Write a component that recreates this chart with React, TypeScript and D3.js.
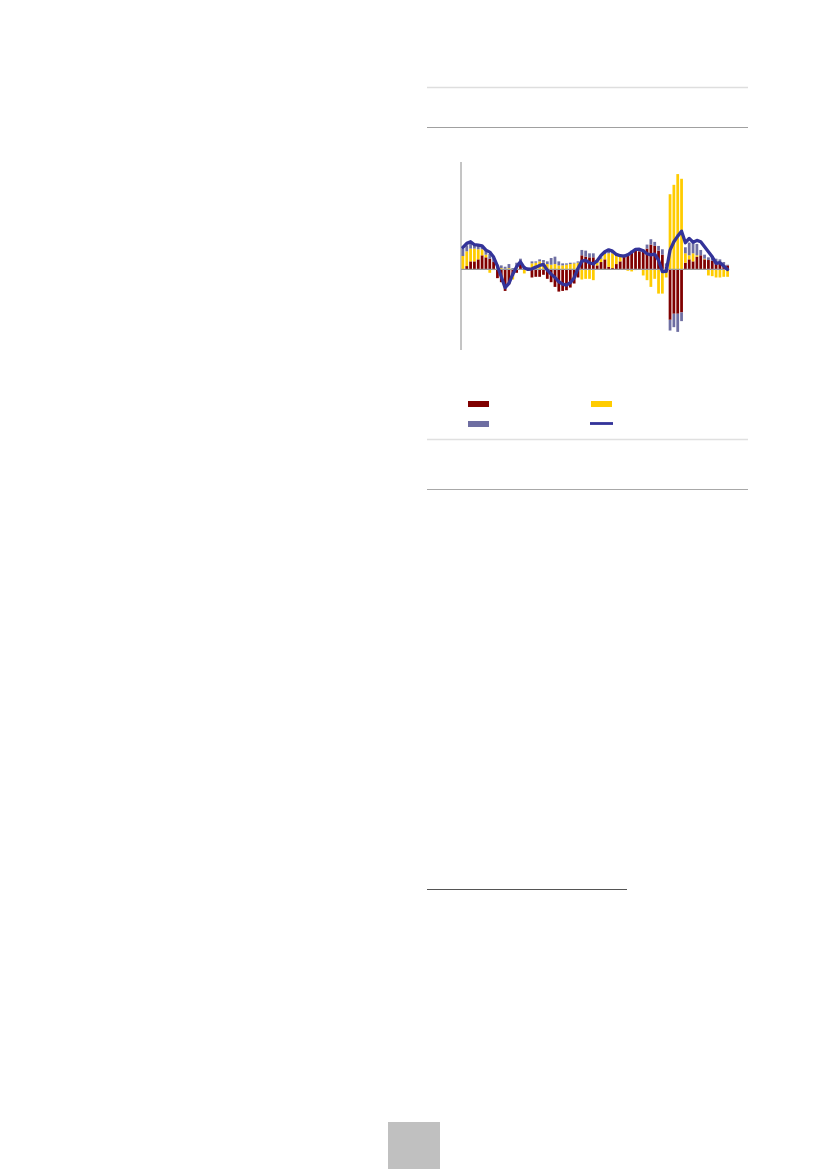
import * as d3 from 'd3';

// contributions per period (70 periods, oldest first)
const periods: number[] = d3.range(70);

const red: number[] = [
  0, 0.25, 0.6, 0.6, 0.75, 1.05, 0.9, 0.8, 0.55, -0.65,
  -0.95, -1.6, -1.1, -0.5, -0.25, 0.45, 0.1, -0.1, -0.6, -0.55,
  -0.55, -0.4, -0.7, -0.95, -1.3, -1.65, -1.6, -1.55, -1.35, -1.05,
  -0.6, 1.05, 0.95, 0.9, 0.9, 0.3, 0.55, 0.75, 0.2, 0.1,
  0.4, 0.6, 0.95, 1.1, 1.25, 1.4, 1.35, 1.35, 1.55, 1.85,
  1.75, 1.4, 1.1, 0.2, -3.75, -3.3, -3.3, -3.2, 0.5, 0.75,
  0.6, 0.95, 1.05, 0.75, 0.7, 0.65, 0.55, 0.45, 0.35, 0.3,
];

const yellow: number[] = [
  1.0, 1.1, 0.95, 0.95, 0.75, 0.45, 0.2, -0.25, -0.05, 0.05,
  0.1, 0.05, 0.1, -0.25, 0.15, 0.1, -0.3, 0.1, 0.45, 0.5,
  0.6, 0.5, 0.4, 0.35, 0.4, 0.3, 0.3, 0.35, 0.4, 0.45,
  0.5, -0.75, -0.7, -0.7, -0.8, 0.2, 0.25, 0.4, 1.0, 1.1,
  0.6, 0.4, 0.1, -0.1, -0.15, -0.05, 0, -0.45, -0.8, -1.3,
  -0.7, -1.8, -1.8, -0.6, 5.6, 6.3, 7.1, 6.75, 0.7, 0.3,
  0.6, 0.1, 0, 0.05, -0.45, -0.5, -0.6, -0.6, -0.55, -0.55,
];

const other: number[] = [
  0.55, 0.45, 0.35, 0.3, 0.3, 0.25, 0.3, 0.35, 0.3, 0.3,
  0.2, 0.15, 0.3, 0.1, 0.35, 0.25, 0.15, 0.05, 0.15, 0.1,
  0.15, 0.2, 0.2, 0.5, 0.55, 0.3, 0.15, 0.1, 0.1, 0.05,
  0.1, 0.4, 0.45, 0.3, 0.3, 0.1, 0.1, 0.1, 0.15, 0.15,
  0.1, 0.1, 0.05, 0.1, 0.15, 0.1, 0.15, 0.15, 0.3, 0.4,
  0.3, 0.35, 0.4, 0.25, -0.8, -1.0, -1.35, -0.65, 0.45, 0.95,
  0.9, 0.85, 0.4, 0.3, 0.2, 0.35, 0.25, 0.3, 0.2, 0.05,
];

const total: number[] = [
  1.64, 1.94, 2.06, 1.84, 1.81, 1.76, 1.44, 1.29, 0.92, 0.25,
  -0.55, -1.36, -1.04, -0.35, 0.2, 0.57, 0.12, 0, 0.05, 0.17,
  0.3, 0.37, -0.05, -0.35, -0.6, -0.92, -1.09, -1.17, -0.99, -0.62,
  0.07, 0.62, 0.67, 0.5, 0.4, 0.65, 1.04, 1.32, 1.46, 1.36,
  1.12, 1.02, 0.99, 1.09, 1.29, 1.49, 1.51, 1.39, 1.17, 1.09,
  1.14, 0.69, -0.17, -0.15, 1.44, 2.06, 2.48, 2.85, 1.99, 2.31,
  2.03, 2.16, 2.06, 1.69, 1.32, 0.94, 0.45, 0.5, 0.25, 0,
];

const yDomain: [number, number] = [-6, 8];

const keys = ['red', 'yellow', 'other'] as const;
const colors: Record<string, string> = {
  red: '#800000',
  yellow: '#ffcc00',
  other: '#6e6ea2',
};
const lineColor = '#333399';

type Row = { p: number; red: number; yellow: number; other: number };
const rows: Row[] = periods.map((p, i) => ({ p, red: red[i], yellow: yellow[i], other: other[i] }));

export default function App() {
  const x = d3.scaleBand<number>()
    .domain(periods)
    .range([461, 729.5])
    .paddingInner(0.28)
    .paddingOuter(0.14);
  const y = d3.scaleLinear().domain(yDomain).range([350, 162]);

  const series = d3.stack<Row>()
    .keys(keys as unknown as string[])
    .value((d, k) => (d as any)[k])
    .offset(d3.stackOffsetDiverging)(rows);

  const line = d3.line<number>()
    .x((_, i) => (x(periods[i]) ?? 0) + x.bandwidth() / 2)
    .y(d => y(d));

  const legend = [
    { key: 'red', x: 468, y: 401, kind: 'bar' },
    { key: 'yellow', x: 591, y: 401, kind: 'bar' },
    { key: 'other', x: 468, y: 421, kind: 'bar' },
    { key: 'line', x: 591, y: 421, kind: 'line' },
  ];

  return (
    <svg width={827} height={1169} style={{ position: 'absolute', left: 0, top: 0 }}>
      {/* page rules */}
      <line x1={427} x2={748} y1={87.5} y2={87.5} stroke="#dedede" strokeWidth={1.3} />
      <line x1={427} x2={748} y1={127.5} y2={127.5} stroke="#a0a0a0" strokeWidth={1.2} />
      <line x1={427} x2={748} y1={439.5} y2={439.5} stroke="#e0e0e0" strokeWidth={1.3} />
      <line x1={427} x2={748} y1={489.5} y2={489.5} stroke="#a8a8a8" strokeWidth={1.2} />
      <line x1={427} x2={627} y1={889.5} y2={889.5} stroke="#555" strokeWidth={1.2} />
      <rect x={388} y={1122} width={52} height={47} fill="#c0c0c0" />

      {/* y axis */}
      <line x1={461} x2={461} y1={y(yDomain[1])} y2={y(yDomain[0])} stroke="#8a8a8a" strokeWidth={1} />

      {series.map(s => (
        <g key={s.key} fill={colors[s.key]}>
          {s.map((d, i) => (
            <rect
              key={i}
              x={x(d.data.p)}
              width={x.bandwidth()}
              y={y(Math.max(d[0], d[1]))}
              height={Math.abs(y(d[0]) - y(d[1]))}
            />
          ))}
        </g>
      ))}

      {/* zero line */}
      <line x1={461} x2={728} y1={y(0)} y2={y(0)} stroke="#9a9a9a" strokeWidth={1.3} />

      <path d={line(total) ?? ''} fill="none" stroke={lineColor} strokeWidth={3.3} strokeLinejoin="round" strokeLinecap="round" />

      {legend.map(l =>
        l.kind === 'bar' ? (
          <rect key={l.key} x={l.x} y={l.y} width={21} height={6} fill={colors[l.key]} />
        ) : (
          <line key={l.key} x1={l.x - 1} x2={l.x + 22} y1={l.y + 2.5} y2={l.y + 2.5} stroke={lineColor} strokeWidth={2.8} />
        )
      )}
    </svg>
  );
}
